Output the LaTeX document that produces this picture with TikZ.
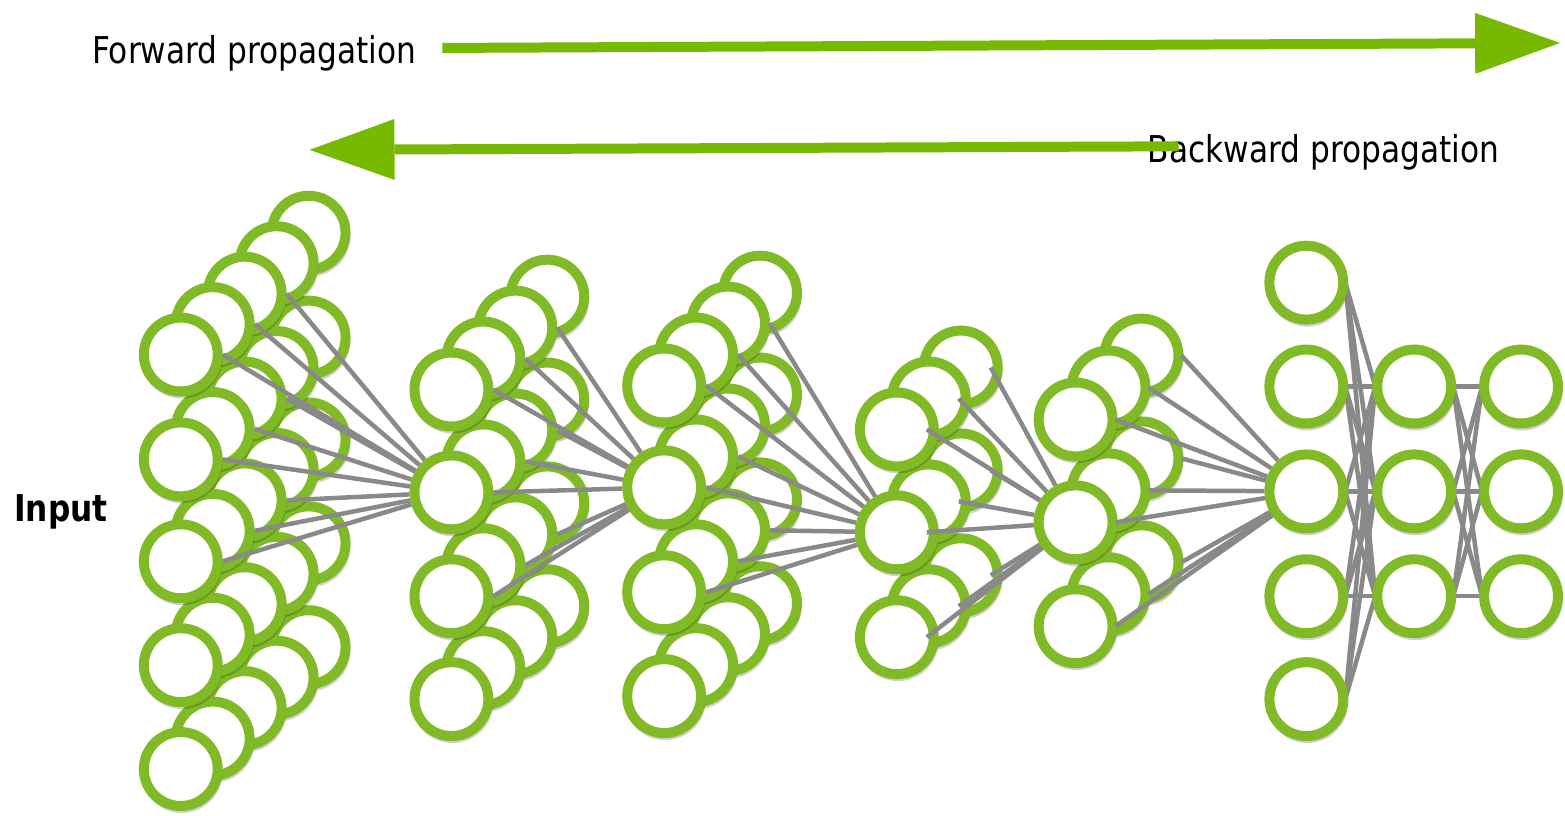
\documentclass[tikz,border=0pt]{standalone}
\usepackage{fontspec}
\setmainfont{DejaVu Sans}
\newfontfamily\lblfont[FakeStretch=0.845]{DejaVu Sans}
\usetikzlibrary{arrows.meta,shadows}
\definecolor{ring}{RGB}{128,186,39}
\definecolor{arrowgreen}{RGB}{118,185,0}
\definecolor{wiregray}{RGB}{137,137,137}
\pgfdeclarelayer{paper}
\pgfdeclarelayer{wires}
\pgfsetlayers{paper,wires,main}
\begin{document}
\begin{tikzpicture}[x=1pt,y=-1pt,
  neuron/.style={circle,draw=ring,fill=white,line width=10pt,minimum size=74pt,inner sep=0pt,
     drop shadow={shadow xshift=1pt,shadow yshift=-3pt,shadow scale=1.1,opacity=0.18,fill=black}},
  wire/.style={draw=wiregray,line width=4.5pt},
  prop/.style={draw=arrowgreen,line width=10pt,-{Triangle[length=85pt,width=61pt,line width=0pt]}},
  lbl/.style={font=\lblfont\fontsize{37}{40}\selectfont,inner sep=0pt,anchor=base west},
  lblb/.style={font=\lblfont\bfseries\fontsize{37}{40}\selectfont,inner sep=0pt,anchor=base west}
]
\begin{pgfonlayer}{paper}
\useasboundingbox[fill=white] (0,0) rectangle (1565,817);
\end{pgfonlayer}

% labels
\node[lbl] (fwd) at (92,64) {Forward propagation};
\node[lbl] (bwd) at (1149,163) {Backward propagation};
\node[lblb] (inp) at (14,522) {Input};

% propagation arrows
\coordinate (fS) at (443,48);
\coordinate (fT) at (1562,43);
\draw[prop] (fS) -- (fT);
\coordinate (bS) at (1180,146.5);
\coordinate (bT) at (310,150);
\draw[prop] (bS) -- (bT);

% layer A (input)
\foreach \k in {4,3,2,1,0}{
  \foreach \yy [count=\r] in {355,460,562,666,770}{
    \node[neuron] (A-\r-\k) at ({181+32*\k},{\yy-30.5*\k}) {};
  }
}
% layer B
\foreach \k in {3,2,1,0}{
  \foreach \yy [count=\r] in {390,493,597,700}{
    \node[neuron] (B-\r-\k) at ({452+32*\k},{\yy-31*\k}) {};
  }
}
% layer C
\foreach \k in {3,2,1,0}{
  \foreach \yy [count=\r] in {386,488,593,697}{
    \node[neuron] (C-\r-\k) at ({665+32*\k},{\yy-31*\k}) {};
  }
}
% layer D
\foreach \k in {2,1,0}{
  \foreach \yy [count=\r] in {430,533,638}{
    \node[neuron] (D-\r-\k) at ({898+32*\k},{\yy-31*\k}) {};
  }
}
% layer E
\foreach \k in {2,1,0}{
  \foreach \yy [count=\r] in {420,523,627}{
    \node[neuron] (E-\r-\k) at ({1077+33*\k},{\yy-32*\k}) {};
  }
}
% layers F, G, H
\foreach \yy [count=\r] in {283,387,492,597,700}{
  \node[neuron] (F-\r) at (1308,\yy) {};
}
\foreach \yy [count=\r] in {387,492,597}{
  \node[neuron] (G-\r) at (1416,\yy) {};
  \node[neuron] (H-\r) at (1523,\yy) {};
}

% connections
\foreach \r in {1,2,3}{
  \foreach \k in {0,1,2}{
    \draw[wire] (A-\r-\k.east) -- (B-2-0);
    \draw[wire] (B-\r-\k.east) -- (C-2-0);
    \draw[wire] ([xshift=-12pt]D-\r-\k.east) -- (E-2-0);
    \draw[wire] ([xshift=-2pt]E-\r-\k.east) -- (F-3);
  }
}
\foreach \r/\k in {1/0,1/1,1/2,2/0,2/1,3/0,3/1,3/2}{
  \draw[wire] (C-\r-\k.east) -- (D-2-0);
}
\begin{pgfonlayer}{wires}
\foreach \i in {1,...,5}{
  \foreach \j in {1,2,3}{
    \draw[wire] ([xshift=-3pt]F-\i.east) -- ([xshift=3pt]G-\j.west);
  }
}
\foreach \i in {1,2,3}{
  \foreach \j in {1,2,3}{
    \draw[wire] ([xshift=-3pt]G-\i.east) -- ([xshift=3pt]H-\j.west);
  }
}
\end{pgfonlayer}
\end{tikzpicture}
\end{document}
